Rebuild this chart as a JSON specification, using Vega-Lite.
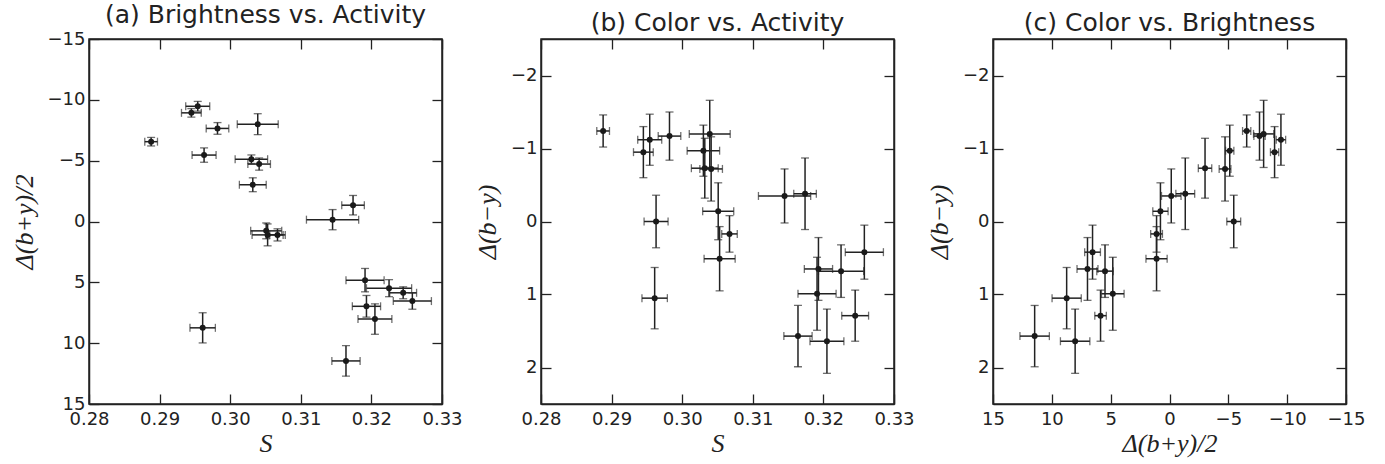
{
  "$schema": "https://vega.github.io/schema/vega-lite/v6.json",
  "background": "white",
  "padding": {"left": 10, "top": 2, "right": 5, "bottom": 2},
  "datasets": {
    "d": [
      {"S": 0.2954, "Serr": 0.0017, "B": -9.47, "Berr": 0.4, "C": -1.12, "Cerr": 0.35},
      {"S": 0.2945, "Serr": 0.0014, "B": -8.93, "Berr": 0.35, "C": -0.95, "Cerr": 0.35},
      {"S": 0.2982, "Serr": 0.0016, "B": -7.65, "Berr": 0.48, "C": -1.17, "Cerr": 0.33},
      {"S": 0.3039, "Serr": 0.0029, "B": -8.0, "Berr": 0.86, "C": -1.2, "Cerr": 0.46},
      {"S": 0.2888, "Serr": 0.0009, "B": -6.56, "Berr": 0.35, "C": -1.24, "Cerr": 0.22},
      {"S": 0.2963, "Serr": 0.0017, "B": -5.46, "Berr": 0.59, "C": 0.0, "Cerr": 0.36},
      {"S": 0.3030, "Serr": 0.0023, "B": -5.12, "Berr": 0.35, "C": -0.97, "Cerr": 0.35},
      {"S": 0.3041, "Serr": 0.0016, "B": -4.72, "Berr": 0.5, "C": -0.72, "Cerr": 0.44},
      {"S": 0.3032, "Serr": 0.0019, "B": -3.02, "Berr": 0.57, "C": -0.73, "Cerr": 0.41},
      {"S": 0.3174, "Serr": 0.0016, "B": -1.34, "Berr": 0.8, "C": -0.38, "Cerr": 0.49},
      {"S": 0.3145, "Serr": 0.0037, "B": -0.15, "Berr": 0.83, "C": -0.35, "Cerr": 0.37},
      {"S": 0.3051, "Serr": 0.0022, "B": 0.77, "Berr": 0.65, "C": -0.14, "Cerr": 0.39},
      {"S": 0.3053, "Serr": 0.0022, "B": 1.1, "Berr": 0.9, "C": 0.51, "Cerr": 0.44},
      {"S": 0.3067, "Serr": 0.0011, "B": 1.1, "Berr": 0.5, "C": 0.17, "Cerr": 0.25},
      {"S": 0.2961, "Serr": 0.0018, "B": 8.74, "Berr": 1.24, "C": 1.05, "Cerr": 0.42},
      {"S": 0.3191, "Serr": 0.0027, "B": 4.82, "Berr": 0.96, "C": 0.99, "Cerr": 0.5},
      {"S": 0.3225, "Serr": 0.0032, "B": 5.48, "Berr": 0.7, "C": 0.68, "Cerr": 0.36},
      {"S": 0.3245, "Serr": 0.0019, "B": 5.86, "Berr": 0.49, "C": 1.29, "Cerr": 0.35},
      {"S": 0.3258, "Serr": 0.0027, "B": 6.54, "Berr": 0.67, "C": 0.42, "Cerr": 0.37},
      {"S": 0.3193, "Serr": 0.0020, "B": 6.97, "Berr": 0.89, "C": 0.65, "Cerr": 0.43},
      {"S": 0.3205, "Serr": 0.0024, "B": 8.02, "Berr": 1.25, "C": 1.64, "Cerr": 0.44},
      {"S": 0.3164, "Serr": 0.0020, "B": 11.46, "Berr": 1.25, "C": 1.57, "Cerr": 0.42}
    ]
  },
  "config": {
    "view": {"stroke": "#222", "strokeWidth": 1.5},
    "title": {"font": "DejaVu Sans", "fontSize": 25, "fontWeight": "normal", "color": "#222", "offset": 2},
    "axis": {
      "grid": false,
      "labelFont": "DejaVu Sans", "labelFontSize": 18, "labelColor": "#222",
      "tickColor": "#222", "tickSize": -10, "tickWidth": 1.3,
      "domainColor": "#222", "domainWidth": 1.5,
      "labelPadding": 14,
      "titleFont": "Liberation Serif", "titleFontStyle": "italic", "titleFontWeight": "normal",
      "titleFontSize": 26, "titleColor": "#222",
      "labelFlush": false, "labelOverlap": false
    },
    "axisBottom": {"labelPadding": 16, "titlePadding": 2},
    "axisLeft": {"titlePadding": 10}
  },
  "spacing": 99,
  "bounds": "flush",
  "hconcat": [
    {
      "width": 353, "height": 365,
      "title": "(a) Brightness vs. Activity",
      "data": {"name": "d"},
      "layer": [
        {
          "mark": {"type": "errorbar", "ticks": {"size": 8, "color": "#333", "thickness": 1.3}, "color": "#222", "thickness": 1.5},
          "encoding": {
            "x": {"field": "S", "type": "quantitative", "scale": {"domain": [0.28, 0.33], "nice": false, "zero": false}, "axis": null},
            "xError": {"field": "Serr"},
            "y": {"field": "B", "type": "quantitative", "scale": {"domain": [-15, 15], "reverse": true, "nice": false, "zero": false}, "axis": null}
          }
        },
        {
          "mark": {"type": "errorbar", "ticks": {"size": 8, "color": "#333", "thickness": 1.3}, "color": "#222", "thickness": 1.5},
          "encoding": {
            "y": {"field": "B", "type": "quantitative", "axis": null},
            "yError": {"field": "Berr"},
            "x": {"field": "S", "type": "quantitative", "axis": null}
          }
        },
        {
          "mark": {"type": "point", "filled": true, "size": 36, "color": "#1a1a1a", "opacity": 1},
          "encoding": {
            "x": {"field": "S", "type": "quantitative", "axis": {"values": [0.28, 0.29, 0.30, 0.31, 0.32, 0.33], "format": ".2f", "title": "S"}},
            "y": {"field": "B", "type": "quantitative", "axis": {"values": [-15, -10, -5, 0, 5, 10, 15], "title": "Δ(b+y)/2"}}
          }
        },
        {
          "mark": {"type": "point", "opacity": 0},
          "encoding": {
            "x": {"field": "S", "type": "quantitative", "axis": {"orient": "top", "values": [0.28, 0.29, 0.30, 0.31, 0.32, 0.33], "labels": false, "title": null}},
            "y": {"field": "B", "type": "quantitative", "axis": {"orient": "right", "values": [-15, -10, -5, 0, 5, 10, 15], "labels": false, "title": null}}
          }
        }
      ],
      "resolve": {"axis": {"x": "independent", "y": "independent"}}
    },
    {
      "width": 353, "height": 365,
      "title": "(b) Color vs. Activity",
      "data": {"name": "d"},
      "layer": [
        {
          "mark": {"type": "errorbar", "ticks": {"size": 8, "color": "#333", "thickness": 1.3}, "color": "#222", "thickness": 1.5},
          "encoding": {
            "x": {"field": "S", "type": "quantitative", "scale": {"domain": [0.28, 0.33], "nice": false, "zero": false}, "axis": null},
            "xError": {"field": "Serr"},
            "y": {"field": "C", "type": "quantitative", "scale": {"domain": [-2.5, 2.5], "reverse": true, "nice": false, "zero": false}, "axis": null}
          }
        },
        {
          "mark": {"type": "errorbar", "ticks": {"size": 8, "color": "#333", "thickness": 1.3}, "color": "#222", "thickness": 1.5},
          "encoding": {
            "y": {"field": "C", "type": "quantitative", "axis": null},
            "yError": {"field": "Cerr"},
            "x": {"field": "S", "type": "quantitative", "axis": null}
          }
        },
        {
          "mark": {"type": "point", "filled": true, "size": 36, "color": "#1a1a1a", "opacity": 1},
          "encoding": {
            "x": {"field": "S", "type": "quantitative", "axis": {"values": [0.28, 0.29, 0.30, 0.31, 0.32, 0.33], "format": ".2f", "title": "S"}},
            "y": {"field": "C", "type": "quantitative", "axis": {"values": [-2, -1, 0, 1, 2], "title": "Δ(b−y)"}}
          }
        },
        {
          "mark": {"type": "point", "opacity": 0},
          "encoding": {
            "x": {"field": "S", "type": "quantitative", "axis": {"orient": "top", "values": [0.28, 0.29, 0.30, 0.31, 0.32, 0.33], "labels": false, "title": null}},
            "y": {"field": "C", "type": "quantitative", "axis": {"orient": "right", "values": [-2, -1, 0, 1, 2], "labels": false, "title": null}}
          }
        }
      ],
      "resolve": {"axis": {"x": "independent", "y": "independent"}}
    },
    {
      "width": 353, "height": 365,
      "title": "(c) Color vs. Brightness",
      "data": {"name": "d"},
      "layer": [
        {
          "mark": {"type": "errorbar", "ticks": {"size": 8, "color": "#333", "thickness": 1.3}, "color": "#222", "thickness": 1.5},
          "encoding": {
            "x": {"field": "B", "type": "quantitative", "scale": {"domain": [-15, 15], "reverse": true, "nice": false, "zero": false}, "axis": null},
            "xError": {"field": "Berr"},
            "y": {"field": "C", "type": "quantitative", "scale": {"domain": [-2.5, 2.5], "reverse": true, "nice": false, "zero": false}, "axis": null}
          }
        },
        {
          "mark": {"type": "errorbar", "ticks": {"size": 8, "color": "#333", "thickness": 1.3}, "color": "#222", "thickness": 1.5},
          "encoding": {
            "y": {"field": "C", "type": "quantitative", "axis": null},
            "yError": {"field": "Cerr"},
            "x": {"field": "B", "type": "quantitative", "axis": null}
          }
        },
        {
          "mark": {"type": "point", "filled": true, "size": 36, "color": "#1a1a1a", "opacity": 1},
          "encoding": {
            "x": {"field": "B", "type": "quantitative", "axis": {"values": [15, 10, 5, 0, -5, -10, -15], "title": "Δ(b+y)/2"}},
            "y": {"field": "C", "type": "quantitative", "axis": {"values": [-2, -1, 0, 1, 2], "title": "Δ(b−y)"}}
          }
        },
        {
          "mark": {"type": "point", "opacity": 0},
          "encoding": {
            "x": {"field": "B", "type": "quantitative", "axis": {"orient": "top", "values": [15, 10, 5, 0, -5, -10, -15], "labels": false, "title": null}},
            "y": {"field": "C", "type": "quantitative", "axis": {"orient": "right", "values": [-2, -1, 0, 1, 2], "labels": false, "title": null}}
          }
        }
      ],
      "resolve": {"axis": {"x": "independent", "y": "independent"}}
    }
  ]
}
